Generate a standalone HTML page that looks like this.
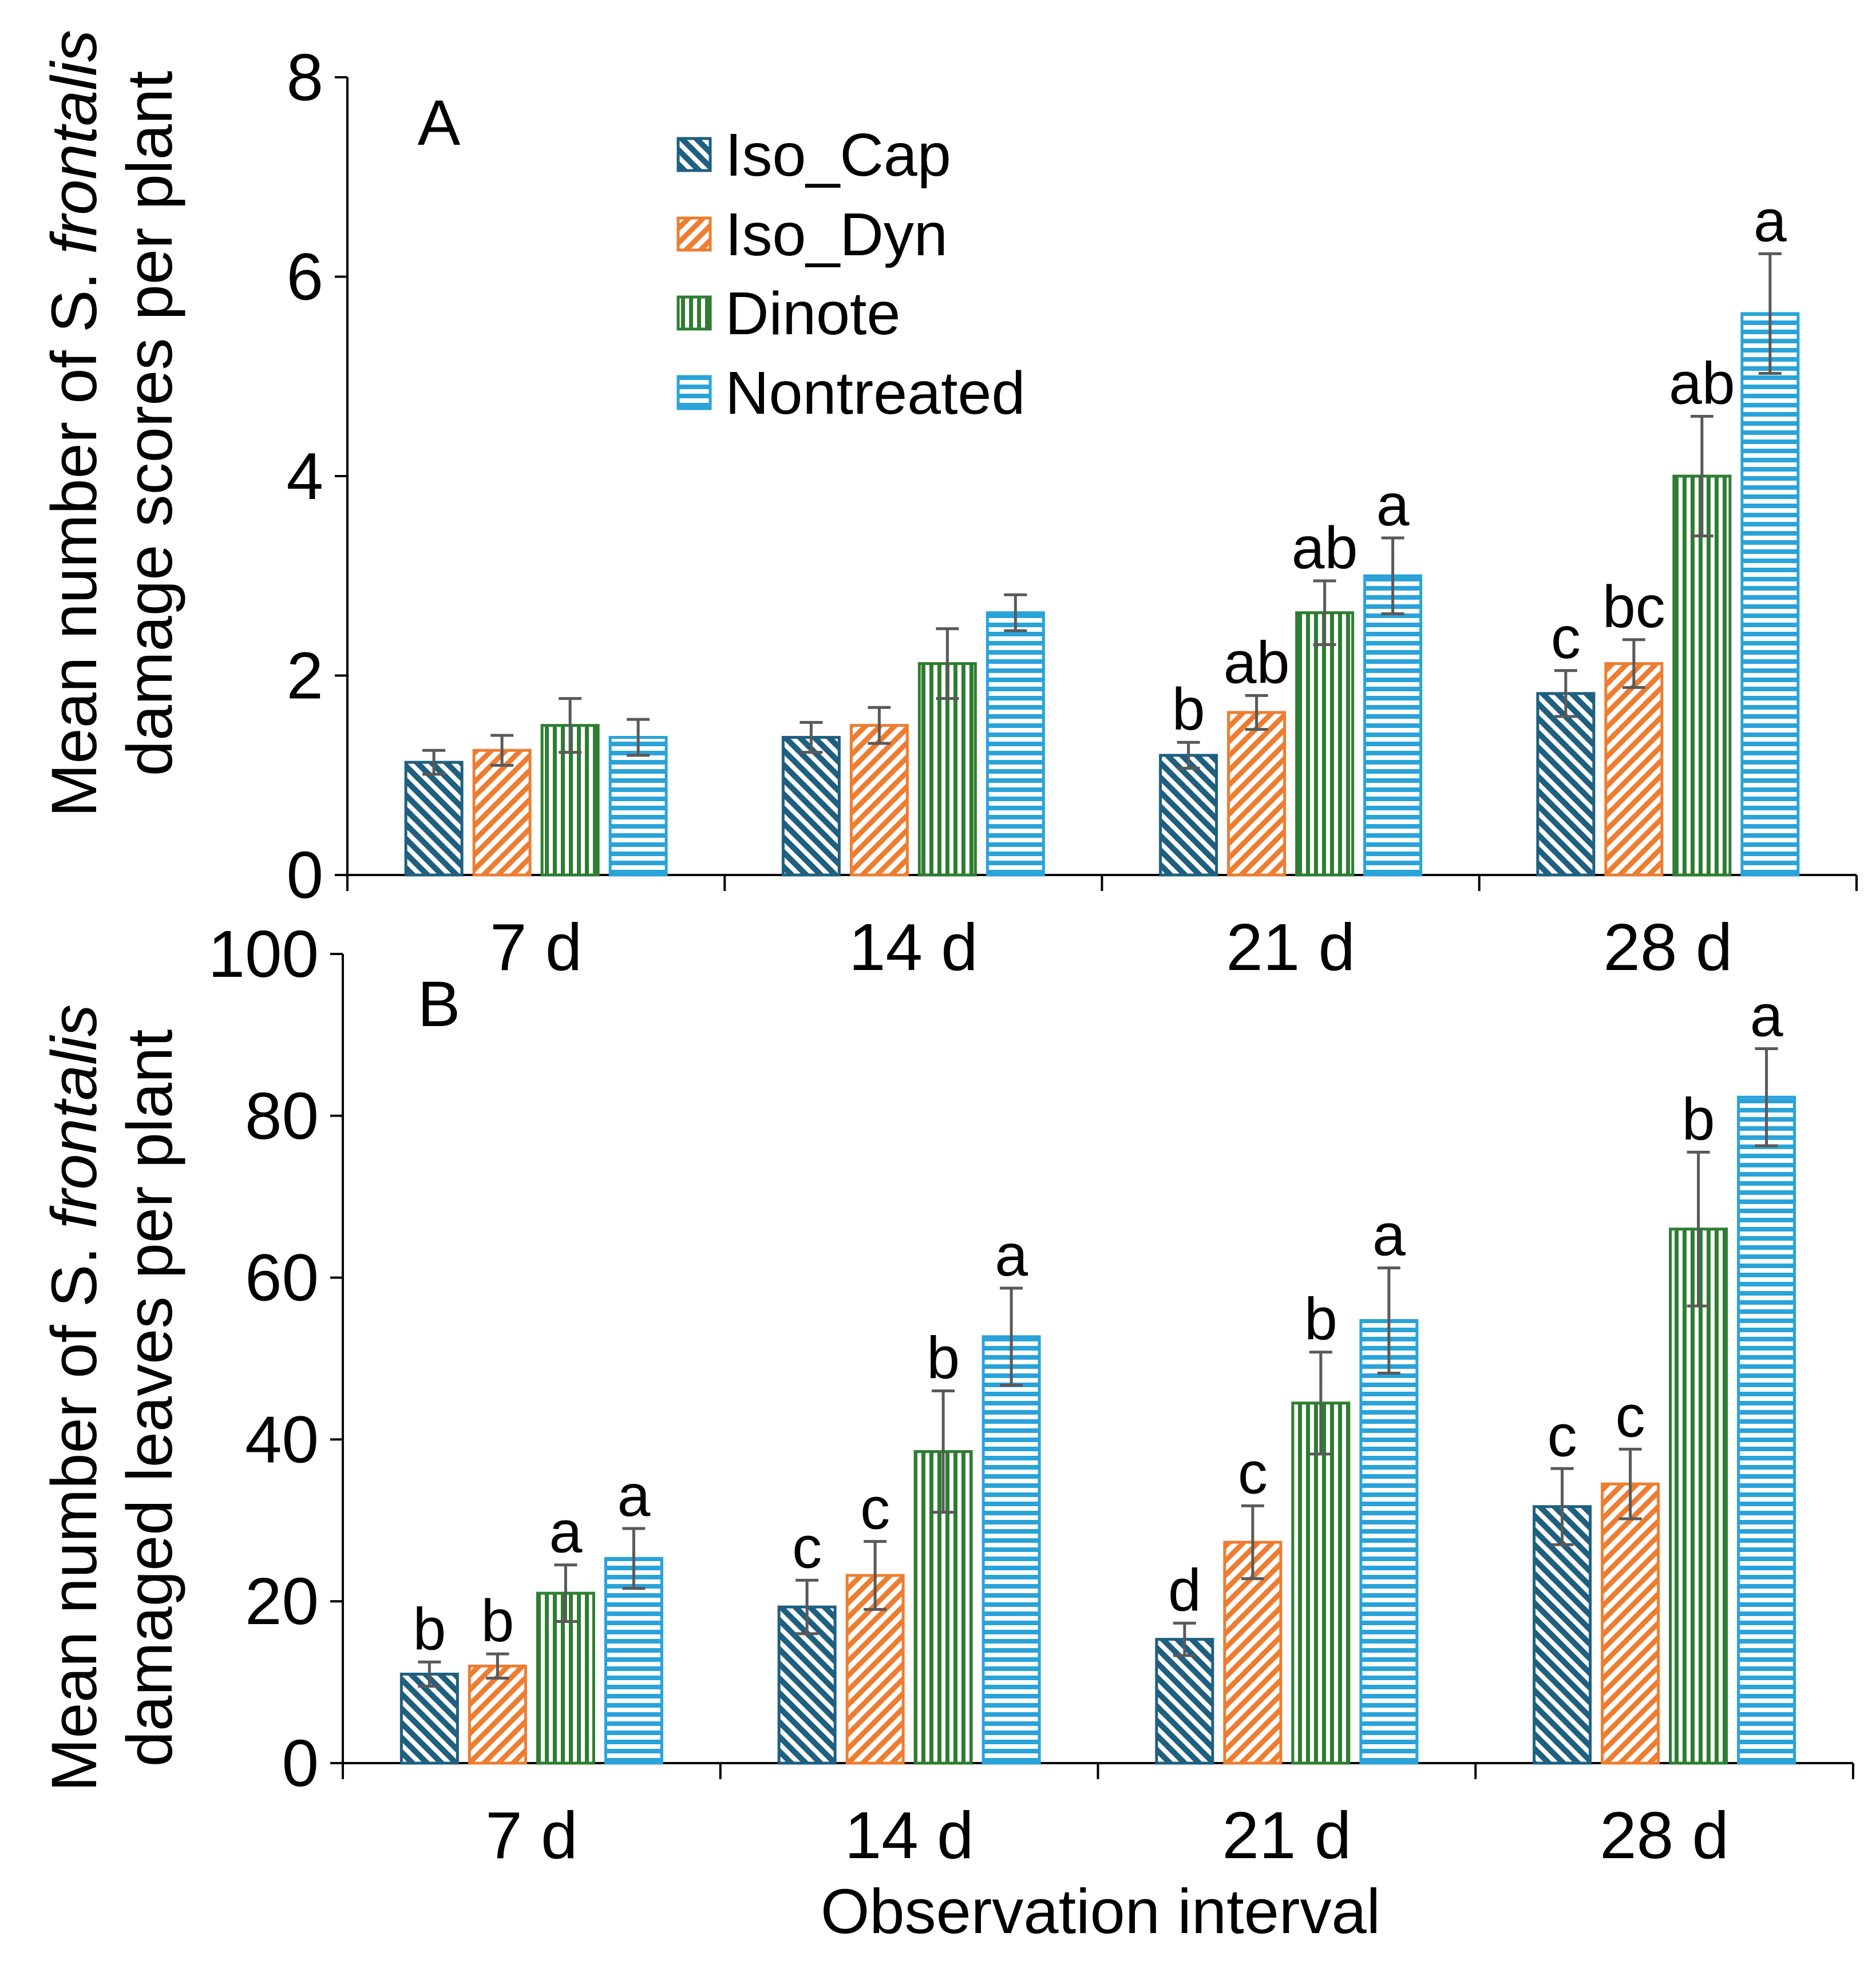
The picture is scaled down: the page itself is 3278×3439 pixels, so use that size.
<!DOCTYPE html>
<html><head><meta charset="utf-8"><style>
html,body{margin:0;padding:0;background:#fff;}
svg{display:block;font-family:"Liberation Sans",Arial,sans-serif;}
</style></head><body>
<svg id="chart" width="3278" height="3439" viewBox="0 0 3278 3439" xmlns="http://www.w3.org/2000/svg">
<defs>
<pattern id="p-cap" patternUnits="userSpaceOnUse" width="18" height="18" patternTransform="rotate(-45)"><rect width="18" height="18" fill="#fff"/><rect width="10" height="18" fill="#1f5f7f"/></pattern>
<pattern id="p-dyn" patternUnits="userSpaceOnUse" width="18" height="18" patternTransform="rotate(45)"><rect width="18" height="18" fill="#fff"/><rect width="9" height="18" fill="#ed7d31"/></pattern>
<pattern id="p-din" patternUnits="userSpaceOnUse" width="14" height="14"><rect width="14" height="14" fill="#fff"/><rect width="7" height="14" fill="#2e7d32"/></pattern>
<pattern id="p-non" patternUnits="userSpaceOnUse" width="16" height="16"><rect width="16" height="16" fill="#fff"/><rect width="16" height="8" fill="#29a3d9"/></pattern>
</defs>
<g id="root"></g>
</svg>
<script>
const categories = ["7 d","14 d","21 d","28 d"];
const seriesNames = ["Iso_Cap","Iso_Dyn","Dinote","Nontreated"];
// Panel A
const aIsoCap = [1.13,1.38,1.2,1.82];
const aIsoDyn = [1.25,1.5,1.63,2.12];
const aDinote = [1.5,2.12,2.63,4.0];
const aNon = [1.38,2.63,3.0,5.63];
const aErrCap = [0.12,0.15,0.13,0.23];
const aErrDyn = [0.15,0.18,0.17,0.24];
const aErrDin = [0.27,0.35,0.32,0.6];
const aErrNon = [0.18,0.18,0.38,0.6];
const aLetCap = ["","","b","c"];
const aLetDyn = ["","","ab","bc"];
const aLetDin = ["","","ab","ab"];
const aLetNon = ["","","a","a"];
const aTicks = [0,2,4,6,8];
// Panel B
const bIsoCap = [11,19.3,15.3,31.7];
const bIsoDyn = [12,23.2,27.3,34.5];
const bDinote = [21,38.5,44.5,66];
const bNon = [25.3,52.7,54.7,82.3];
const bErrCap = [1.5,3.3,2,4.7];
const bErrDyn = [1.5,4.2,4.5,4.3];
const bErrDin = [3.5,7.5,6.3,9.5];
const bErrNon = [3.7,6,6.5,6];
const bLetCap = ["b","c","d","c"];
const bLetDyn = ["b","c","c","c"];
const bLetDin = ["a","b","b","b"];
const bLetNon = ["a","a","a","a"];
const bTicks = [0,20,40,60,80,100];

const NS="http://www.w3.org/2000/svg";
const root=document.getElementById('root');
function el(tag,attrs,parent,text){const e=document.createElementNS(NS,tag);for(const k in attrs)e.setAttribute(k,attrs[k]);if(text!==undefined)e.textContent=text;(parent||root).appendChild(e);return e;}
const fills=["url(#p-cap)","url(#p-dyn)","url(#p-din)","url(#p-non)"];
const strokes=["#1f5f7f","#ed7d31","#2e7d32","#29a3d9"];
const keys=["iso-cap","iso-dyn","dinote","nontreated"];

function panel(id,x0,x1,yTop,yBot,maxV,ticks,vals,errs,lets,labelY){
  const g=el('g',{});
  
  
  const ys=v=>yBot-(v/maxV)*(yBot-yTop);
  const cw=(x1-x0)/categories.length;
  const xs=i=>x0+cw*(i+0.5);
  const ya=el('line',{x1:x0,y1:yTop,x2:x0,y2:yBot,stroke:'#000','stroke-width':4},g);
  
  
  const xa=el('line',{x1:x0,y1:yBot,x2:x1,y2:yBot,stroke:'#000','stroke-width':4},g);
  
  
  ticks.forEach(t=>{
    el('line',{x1:x0-22,y1:ys(t),x2:x0,y2:ys(t),stroke:'#000','stroke-width':4},g);
    const tl=el('text',{x:x0-42,y:ys(t)+40,'text-anchor':'end','font-size':116,fill:'#000'},g,String(t));
    
    
  });
  for(let i=0;i<=categories.length;i++){el('line',{x1:x0+cw*i,y1:yBot,x2:x0+cw*i,y2:yBot+28,stroke:'#000','stroke-width':4},g);}
  categories.forEach((c,i)=>{
    const cl=el('text',{x:xs(i),y:yBot+166,'text-anchor':'middle','font-size':116,fill:'#000'},g,c);
    
    
  });
  const bw=98,gap=21;
  for(let s=0;s<4;s++){
    for(let i=0;i<categories.length;i++){
      const bx=xs(i)-(4*bw+3*gap)/2+s*(bw+gap);
      const v=vals[s][i];
      const r=el('rect',{x:bx,y:ys(v),width:bw,height:yBot-ys(v),fill:fills[s],stroke:strokes[s],'stroke-width':5},g);
      
      
      const cx=bx+bw/2, hi=ys(v+errs[s][i]), lo=ys(v-errs[s][i]);
      const eb=el('path',{d:`M${cx-20},${hi}H${cx+20}M${cx},${hi}V${lo}M${cx-20},${lo}H${cx+20}`,stroke:'#595959','stroke-width':5,fill:'none'},g);
      
      
      if(lets[s][i]){
        const lt=el('text',{x:cx,y:hi-22,'text-anchor':'middle','font-size':104,fill:'#000'},g,lets[s][i]);
        
        
      }
    }
  }
  const pl=el('text',{x:767,y:labelY,'text-anchor':'middle','font-size':112,fill:'#000'},g,id.toUpperCase());
  
  
  return {g,ys};
}
panel('a',607,3244,135,1529,8,aTicks,[aIsoCap,aIsoDyn,aDinote,aNon],[aErrCap,aErrDyn,aErrDin,aErrNon],[aLetCap,aLetDyn,aLetDin,aLetNon],253);
panel('b',599,3238,1667,3081,100,bTicks,[bIsoCap,bIsoDyn,bDinote,bNon],[bErrCap,bErrDyn,bErrDin,bErrNon],[bLetCap,bLetDyn,bLetDin,bLetNon],1793);

const lg=el('g',{});


const legY=[270,409,547,686];
seriesNames.forEach((n,s)=>{
  const e=el('g',{},lg);
  
  
  el('rect',{x:1185,y:legY[s]-28,width:56,height:56,fill:fills[s],stroke:strokes[s],'stroke-width':5},e);
  el('text',{x:1267,y:legY[s]+37,'font-size':106,fill:'#000'},e,n);
});

function ytitle(cx,cy,name){
  const t=el('text',{transform:`translate(${cx},${cy}) rotate(-90)`,'text-anchor':'middle','font-size':112,fill:'#000'});
  
  
  return t;
}
let t1=ytitle(168,740,'y-axis-title-a-line1');
t1.innerHTML='Mean number of S. <tspan font-style="italic">frontalis</tspan>';
let t2=ytitle(300,740,'y-axis-title-a-line2');
t2.textContent='damage scores per plant';
let t3=ytitle(168,2443,'y-axis-title-b-line1');
t3.innerHTML='Mean number of S. <tspan font-style="italic">frontalis</tspan>';
let t4=ytitle(300,2443,'y-axis-title-b-line2');
t4.textContent='damaged leaves per plant';
const xt=el('text',{x:1923,y:3378,'text-anchor':'middle','font-size':110,fill:'#000'},root,'Observation interval');


</script>
</body></html>
